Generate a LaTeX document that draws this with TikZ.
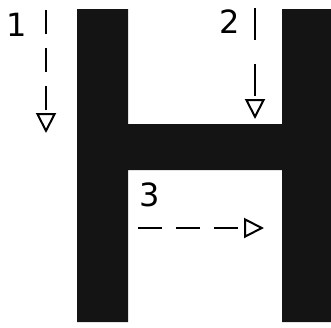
\documentclass[tikz,border=0pt]{standalone}
\usepackage{fontspec}
\setmainfont{DejaVu Sans}
\usetikzlibrary{arrows.meta}

\definecolor{barblack}{HTML}{141414}

\begin{document}
\begin{tikzpicture}[x=0.5pt, y=-0.5pt, >={Triangle[open, length=10pt, width=10pt, line width=1pt]}]
        \tikzset{
            flowlabel/.style={inner sep=0pt, font=\fontsize{16}{16}\selectfont},
            flowpath/.style={->, line width=0.7pt, dash pattern=on 12pt off 7pt}
        }
        \useasboundingbox (0,0) rectangle (331,327);

        % the H
        \fill[barblack] (77,9) -- (128,9) -- (128,124) -- (282,124) -- (282,9)
            -- (331,9) -- (331,322) -- (282,322) -- (282,170) -- (128,170)
            -- (128,322) -- (77,322) -- cycle;

        \node[flowlabel] (l1) at (17,25) {1};
        \node[flowlabel] (l2) at (230,22) {2};
        \node[flowlabel] (l3) at (150,195) {3};

        \coordinate (s1) at (46,10);
        \coordinate (e1) at (46,133);
        \coordinate (s2) at (255,8);
        \coordinate (e2) at (255,119);
        \coordinate (s3) at (138,228);
        \coordinate (e3) at (264,228);

        \draw[flowpath] (s1) -- (e1);
        \draw[flowpath, dash pattern=on 16pt off 12pt] (s2) -- (e2);
        \draw[flowpath] (s3) -- (e3);

    \end{tikzpicture}
\end{document}
